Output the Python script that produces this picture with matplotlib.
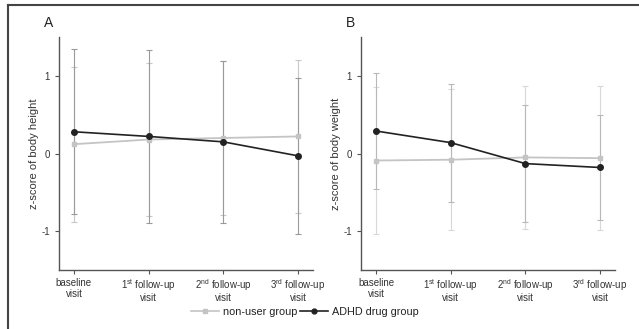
import numpy as np
import matplotlib
matplotlib.use('Agg')
import matplotlib.pyplot as plt
from matplotlib.lines import Line2D

plt.rcParams['font.family'] = ['Liberation Sans', 'DejaVu Sans']
plt.rcParams['mathtext.fontset'] = 'custom'
plt.rcParams['mathtext.rm'] = 'Liberation Sans'

visits = ['baseline\nvisit', '1$^{\\rm st}$ follow-up\nvisit',
          '2$^{\\rm nd}$ follow-up\nvisit', '3$^{\\rm rd}$ follow-up\nvisit']

# panel A: body height
height_adhd = [0.28, 0.22, 0.15, -0.03]
height_adhd_sd = [1.06, 1.11, 1.04, 1.00]
height_non = [0.12, 0.18, 0.20, 0.22]
height_non_sd = [1.00, 0.99, 0.99, 0.98]

# panel B: body weight
weight_adhd = [0.29, 0.14, -0.13, -0.18]
weight_adhd_sd = [0.75, 0.76, 0.75, 0.68]
weight_non = [-0.09, -0.08, -0.05, -0.06]
weight_non_sd = [0.95, 0.91, 0.92, 0.93]

spine_col = '#555555'


def draw_panel(ax, adhd, adhd_sd, non, non_sd, ylabel, letter, err_adhd, err_non):
    x = np.arange(len(visits))
    ax.errorbar(x, non, yerr=non_sd, fmt='none', ecolor=err_non,
                elinewidth=0.8, capsize=2, capthick=0.8, zorder=1)
    ax.errorbar(x, adhd, yerr=adhd_sd, fmt='none', ecolor=err_adhd,
                elinewidth=0.8, capsize=2, capthick=0.8, zorder=1)
    ax.plot(x, non, color='#c4c4c4', marker='s', markersize=3.5,
            linewidth=1.3, zorder=2)
    ax.plot(x, adhd, color='#222222', marker='o', markersize=4,
            linewidth=1.2, zorder=3)

    ax.set_xlim(-0.2, 3.2)
    ax.set_ylim(-1.5, 1.5)
    ax.set_yticks([-1, 0, 1])
    ax.set_yticklabels(['-1', '0', '1'])
    ax.set_xticks(x)
    ax.set_xticklabels(visits, fontsize=7, color='#333333')
    for i, lbl in enumerate(ax.get_xticklabels()):
        lbl.set_linespacing(1.15 if i == 0 else 0.95)
    ax.set_ylabel(ylabel, fontsize=8, color='#333333', labelpad=1.5)
    ax.tick_params(axis='y', labelsize=7, colors='#333333', length=3,
                   width=0.8, color=spine_col)
    ax.tick_params(axis='x', length=3, width=0.8, color=spine_col, pad=2.5)
    for s in ['top', 'right']:
        ax.spines[s].set_visible(False)
    for s in ['left', 'bottom']:
        ax.spines[s].set_color(spine_col)
        ax.spines[s].set_linewidth(1.0)
    ax.text(-0.06, 1.03, letter, transform=ax.transAxes, fontsize=10,
            color='#222222', ha='left', va='bottom')


fig = plt.figure(figsize=(6.39, 3.29), dpi=100)
axA = fig.add_axes([0.0923, 0.1793, 0.3975, 0.7082])
axB = fig.add_axes([0.565, 0.1793, 0.3975, 0.7082])

draw_panel(axA, height_adhd, height_adhd_sd, height_non, height_non_sd,
           'z-score of body height', 'A', '#9a9a9a', '#c8c8c8')
draw_panel(axB, weight_adhd, weight_adhd_sd, weight_non, weight_non_sd,
           'z-score of body weight', 'B', '#b8b8b8', '#d8d8d8')

# outer frame (only top and left visible in the crop)
fig.add_artist(Line2D([8 / 639, 8 / 639], [0, 1 - 5 / 329],
                      transform=fig.transFigure, color='#444444', linewidth=1.5))
fig.add_artist(Line2D([8 / 639, 1], [1 - 5 / 329, 1 - 5 / 329],
                      transform=fig.transFigure, color='#444444', linewidth=1.5))

handles = [Line2D([], [], color='#c4c4c4', marker='s', markersize=3, linewidth=1.2),
           Line2D([], [], color='#222222', marker='o', markersize=3.5, linewidth=1.2)]
fig.legend(handles, ['non-user group', 'ADHD drug group'], loc='center',
           bbox_to_anchor=(0.477, 0.052), ncol=2, frameon=False, fontsize=7.8,
           handlelength=2.6, handletextpad=0.3, columnspacing=0.3,
           labelcolor='#222222')

fig.savefig('out.png', dpi=100, facecolor='white')
